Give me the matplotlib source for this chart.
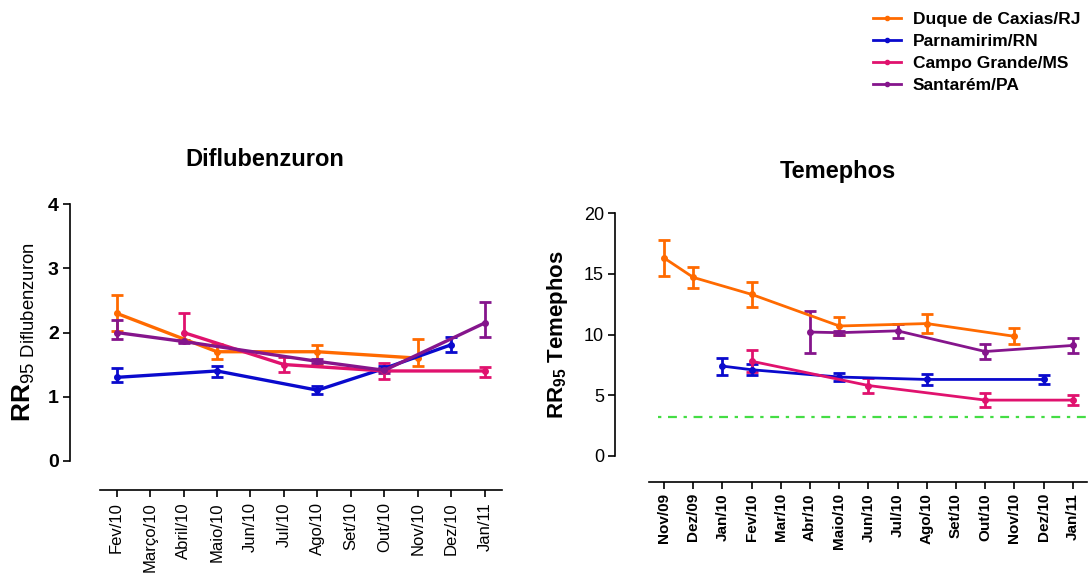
import numpy as np
import matplotlib
matplotlib.use("Agg")
import matplotlib.pyplot as plt
from matplotlib.lines import Line2D

plt.rcParams['font.family'] = ['Liberation Sans', 'DejaVu Sans']
plt.rcParams['mathtext.fontset'] = 'custom'
plt.rcParams['mathtext.rm'] = 'Liberation Sans'
plt.rcParams['mathtext.bf'] = 'Liberation Sans:bold'
plt.rcParams['mathtext.sf'] = 'Liberation Sans'

nan = np.nan

# ---------------- Diflubenzuron ----------------
dif_months = ["Fev/10", "Março/10", "Abril/10", "Maio/10", "Jun/10", "Jul/10",
              "Ago/10", "Set/10", "Out/10", "Nov/10", "Dez/10", "Jan/11"]

dif_caxias = [2.30, nan, nan, 1.70, nan, nan, 1.70, nan, nan, 1.60, nan, nan]
dif_caxias_lo = [0.28, 0, 0, 0.12, 0, 0, 0.20, 0, 0, 0.12, 0, 0]
dif_caxias_hi = [0.28, 0, 0, 0.12, 0, 0, 0.10, 0, 0, 0.30, 0, 0]

dif_parnamirim = [1.30, nan, nan, 1.40, nan, nan, 1.10, nan, 1.44, nan, 1.81, nan]
dif_parnamirim_lo = [0.08, 0, 0, 0.10, 0, 0, 0.06, 0, 0.04, 0, 0.12, 0]
dif_parnamirim_hi = [0.15, 0, 0, 0.08, 0, 0, 0.06, 0, 0.04, 0, 0.12, 0]

dif_campo = [nan, nan, 2.00, nan, nan, 1.50, nan, nan, 1.40, nan, nan, 1.40]
dif_campo_lo = [0, 0, 0.15, 0, 0, 0.11, 0, 0, 0.12, 0, 0, 0.10]
dif_campo_hi = [0, 0, 0.30, 0, 0, 0.11, 0, 0, 0.12, 0, 0, 0.06]

dif_santarem = [2.00, nan, 1.86, nan, nan, nan, 1.55, nan, 1.41, nan, nan, 2.15]
dif_santarem_lo = [0.10, 0, 0.03, 0, 0, 0, 0.03, 0, 0.04, 0, 0, 0.22]
dif_santarem_hi = [0.20, 0, 0.03, 0, 0, 0, 0.03, 0, 0.04, 0, 0, 0.32]

# ---------------- Temephos ----------------
tem_months = ["Nov/09", "Dez/09", "Jan/10", "Fev/10", "Mar/10", "Abr/10", "Maio/10",
              "Jun/10", "Jul/10", "Ago/10", "Set/10", "Out/10", "Nov/10", "Dez/10", "Jan/11"]

tem_caxias = [16.3, 14.7, nan, 13.3, nan, nan, 10.7, nan, nan, 10.9, nan, nan, 9.85, nan, nan]
tem_caxias_err = [1.45, 0.85, 0, 1.05, 0, 0, 0.7, 0, 0, 0.8, 0, 0, 0.65, 0, 0]

tem_parnamirim = [nan, nan, 7.4, 7.1, nan, nan, 6.5, nan, nan, 6.3, nan, nan, nan, 6.3, nan]
tem_parnamirim_err = [0, 0, 0.7, 0.45, 0, 0, 0.3, 0, 0, 0.45, 0, 0, 0, 0.35, 0]

tem_campo = [nan, nan, nan, 7.8, nan, nan, nan, 5.8, nan, nan, nan, 4.6, nan, nan, 4.6]
tem_campo_err = [0, 0, 0, 0.9, 0, 0, 0, 0.6, 0, 0, 0, 0.6, 0, 0, 0.4]

tem_santarem = [nan, nan, nan, nan, nan, 10.2, 10.15, nan, 10.3, nan, nan, 8.6, nan, nan, 9.1]
tem_santarem_err = [0, 0, 0, 0, 0, 1.75, 0.15, 0, 0.6, 0, 0, 0.6, 0, 0, 0.6]

tem_threshold = 3.2

series_names = ["Duque de Caxias/RJ", "Parnamirim/RN", "Campo Grande/MS", "Santarém/PA"]
colors = ["#ff6a00", "#0a0acd", "#e0126e", "#85158c"]

W, H = 1091, 581
fig = plt.figure(figsize=(W / 100, H / 100), dpi=100)


def px_axes(left, right, top, bottom):
    return fig.add_axes([left / W, 1 - bottom / H, (right - left) / W, (bottom - top) / H])


def draw_series(ax, y, lo, hi, color, lw, ms):
    y = np.asarray(y, float)
    lo = np.asarray(lo, float)
    hi = np.asarray(hi, float)
    x = np.arange(len(y))
    m = ~np.isnan(y)
    ax.errorbar(x[m], y[m], yerr=[lo[m], hi[m]], color=color, lw=lw, marker='o',
                ms=ms, capsize=4, capthick=2, elinewidth=2, clip_on=False, zorder=3)


def style_axes(ax, outward, xbounds):
    for s in ("top", "right"):
        ax.spines[s].set_visible(False)
    ax.spines['bottom'].set_position(('outward', outward))
    ax.spines['bottom'].set_bounds(*xbounds)
    ax.spines['left'].set_linewidth(1.2)
    ax.spines['bottom'].set_linewidth(1.2)


# Left panel
axL = px_axes(70, 505, 204.3, 460.7)
style_axes(axL, 21, (-0.5, 11.5))
dif_data = [(dif_caxias, dif_caxias_lo, dif_caxias_hi),
            (dif_parnamirim, dif_parnamirim_lo, dif_parnamirim_hi),
            (dif_campo, dif_campo_lo, dif_campo_hi),
            (dif_santarem, dif_santarem_lo, dif_santarem_hi)]
for (y, lo, hi), c in zip(dif_data, colors):
    draw_series(axL, y, lo, hi, c, 2.4, 4)
axL.set_ylim(0, 4)
axL.set_xlim(-1.39, 11.6)
axL.set_yticks([0, 1, 2, 3, 4])
axL.set_yticklabels(["0", "1", "2", "3", "4"], fontsize=14, fontweight='bold')
axL.set_xticks(range(len(dif_months)))
axL.set_xticklabels(dif_months, rotation=90, fontsize=12)
axL.tick_params(axis='y', length=5, width=1.2, pad=3)
axL.tick_params(axis='x', length=5, width=1.2, pad=4)
axL.set_ylabel(r'$\mathbf{RR}_{\mathsf{95\ Diflubenzuron}}$', fontsize=19, labelpad=8)

# Right panel
axR = px_axes(615, 1091, 213, 456)
style_axes(axR, 18.7, (-0.5, 14.5))
tem_data = [(tem_caxias, tem_caxias_err), (tem_parnamirim, tem_parnamirim_err),
            (tem_campo, tem_campo_err), (tem_santarem, tem_santarem_err)]
for (y, e), c in zip(tem_data, colors):
    draw_series(axR, y, e, e, c, 2.0, 4)
axR.axhline(tem_threshold, xmin=0.09, xmax=1.0, color="#44dd44", lw=1.6,
            ls=(0, (1.5, 3, 4, 3)), zorder=1)
axR.set_ylim(0, 20)
axR.set_xlim(-1.68, 14.62)
axR.set_yticks([0, 5, 10, 15, 20])
axR.set_yticklabels(["0", "5", "10", "15", "20"], fontsize=13)
axR.set_xticks(range(len(tem_months)))
axR.set_xticklabels(tem_months, rotation=90, fontsize=11, fontweight='bold')
axR.tick_params(axis='y', length=5, width=1.2, pad=3)
axR.tick_params(axis='x', length=5, width=1.2, pad=3)
axR.set_ylabel(r'$\mathbf{RR_{95}}$ Temephos', fontsize=16, fontweight='bold', labelpad=10)

# Titles
fig.text(265 / W, 1 - 160 / H, "Diflubenzuron", ha='center', va='center',
         fontsize=17, fontweight='bold')
fig.text(838 / W, 1 - 172 / H, "Temephos", ha='center', va='center',
         fontsize=17, fontweight='bold')

# Legend
handles = [Line2D([], [], color=c, lw=2, marker='o', ms=3) for c in colors]
fig.legend(handles, series_names, loc='upper left', bbox_to_anchor=(866 / W, 1 - 5 / H),
           frameon=False, prop={'weight': 'bold', 'size': 12.5}, handlelength=1.6,
           handletextpad=0.7, labelspacing=0.4, borderaxespad=0)

fig.savefig("out.png", dpi=100)
